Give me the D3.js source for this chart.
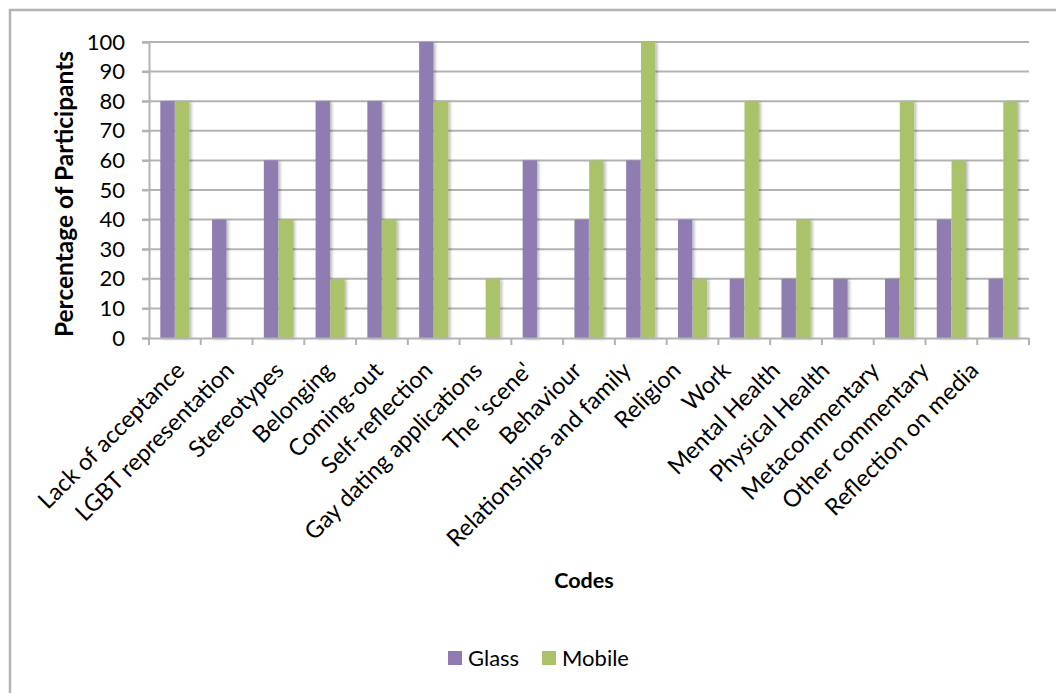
<!DOCTYPE html>
<html>
<head>
<meta charset="utf-8">
<script src="https://cdn.jsdelivr.net/npm/d3@7/dist/d3.min.js"></script>
<style>
  html, body { margin: 0; padding: 0; background: #fff; }
  svg { display: block; font-family: Lato, "Open Sans", sans-serif; }
</style>
</head>
<body>
<svg id="chart" width="1056" height="693"></svg>
<script>
// Codes discussed, and share of participants per condition
const categories = [
  "Lack of acceptance", "LGBT representation", "Stereotypes", "Belonging",
  "Coming-out", "Self-reflection", "Gay dating applications", "The 'scene'",
  "Behaviour", "Relationships and family", "Religion", "Work",
  "Mental Health", "Physical Health", "Metacommentary", "Other commentary",
  "Reflection on media"
];
const seriesNames = ["Glass", "Mobile"];
const glassValues  = [80, 40, 60, 80, 80, 100, 0, 60, 40, 60, 40, 20, 20, 20, 20, 40, 20];
const mobileValues = [80, 0, 40, 20, 40, 80, 20, 0, 60, 100, 20, 80, 40, 0, 80, 60, 80];
const yTicks = [0, 10, 20, 30, 40, 50, 60, 70, 80, 90, 100];
const colors = ["#8f7bb1", "#aac36a"];

const svg = d3.select("#chart");
const margin = { left: 149, right: 1029, top: 42, bottom: 338 };

// outer frame (top and left edges visible)
svg.append("path")
  .attr("d", "M10,693 L10,10 L1056,10")
  .attr("fill", "none").attr("stroke", "#b3b3b3").attr("stroke-width", 2.5);

const defs = svg.append("defs");
const f = defs.append("filter").attr("id", "shadow")
  .attr("x", "-20%").attr("y", "-5%").attr("width", "160%").attr("height", "110%");
f.append("feDropShadow").attr("dx", 2).attr("dy", 1).attr("stdDeviation", 1.6)
  .attr("flood-color", "#000").attr("flood-opacity", 0.28);

const x0 = d3.scaleBand().domain(categories).range([margin.left, margin.right]).padding(0);
const x1 = d3.scaleBand().domain(seriesNames)
  .range([x0.bandwidth() * 0.21, x0.bandwidth() * 0.79]).padding(0.03);
const y = d3.scaleLinear().domain([0, 100]).range([margin.bottom, margin.top]);
// rotated labels are spaced slightly tighter than the category bands
const xLabel = d3.scalePoint().domain(categories).range([186, 980]);

// horizontal gridlines
svg.append("g")
  .selectAll("line").data(yTicks.filter(d => d > 0)).join("line")
  .attr("x1", margin.left - 7).attr("x2", margin.right)
  .attr("y1", d => y(d)).attr("y2", d => y(d))
  .attr("stroke", "#b3b3b3").attr("stroke-width", 2);

// y axis
const yAxis = svg.append("g")
  .attr("transform", `translate(${margin.left},0)`)
  .call(d3.axisLeft(y).tickValues(yTicks).tickSize(7).tickPadding(17));
yAxis.select(".domain").attr("stroke", "#b3b3b3").attr("stroke-width", 2);
yAxis.selectAll(".tick line").attr("stroke", "#b3b3b3").attr("stroke-width", 2);
yAxis.selectAll(".tick text").attr("font-size", 22).attr("fill", "#000")
  .attr("font-family", "Lato, sans-serif");

// bars
const rows = categories.map((c, i) => ({ c, vals: [glassValues[i], mobileValues[i]] }));
svg.append("g").selectAll("g").data(rows).join("g")
  .attr("transform", d => `translate(${x0(d.c)},0)`)
  .selectAll("rect")
  .data(d => d.vals.map((v, k) => ({ k, v })).filter(e => e.v > 0))
  .join("rect")
  .attr("x", d => x1(seriesNames[d.k]))
  .attr("width", x1.bandwidth())
  .attr("y", d => y(d.v))
  .attr("height", d => y(0) - y(d.v))
  .attr("fill", d => colors[d.k])
  .attr("filter", "url(#shadow)");

// x axis
const xAxis = svg.append("g")
  .attr("transform", `translate(0,${margin.bottom})`)
  .call(d3.axisBottom(x0).tickSize(0).tickFormat(""));
xAxis.select(".domain").attr("stroke", "#b3b3b3").attr("stroke-width", 2);
svg.append("g").selectAll("line")
  .data(categories.map(c => x0(c)).concat([margin.right]))
  .join("line")
  .attr("x1", d => d).attr("x2", d => d)
  .attr("y1", margin.bottom).attr("y2", margin.bottom + 7)
  .attr("stroke", "#b3b3b3").attr("stroke-width", 2);

// rotated category labels
svg.append("g").selectAll("text").data(categories).join("text")
  .attr("transform", d => `translate(${xLabel(d)},${margin.bottom + 34}) rotate(-45)`)
  .attr("text-anchor", "end")
  .attr("font-size", 23.5)
  .attr("fill", "#000")
  .text(d => d);

// axis titles
svg.append("text")
  .attr("transform", `translate(73,${(margin.top + margin.bottom) / 2 + 4}) rotate(-90)`)
  .attr("text-anchor", "middle").attr("font-size", 24.5).attr("font-weight", "bold")
  .text("Percentage of Participants");
svg.append("text")
  .attr("x", 584).attr("y", 588)
  .attr("text-anchor", "middle").attr("font-size", 21.5).attr("font-weight", "bold")
  .text("Codes");

// legend
const legendX = [448, 542];
const legend = svg.append("g").selectAll("g").data(seriesNames).join("g")
  .attr("transform", (d, i) => `translate(${legendX[i]},651)`);
legend.append("rect").attr("width", 14).attr("height", 14).attr("fill", (d, i) => colors[i]);
legend.append("text").attr("x", 20).attr("y", 14.5)
  .attr("font-size", 22).attr("fill", "#000").text(d => d);
</script>
</body>
</html>
